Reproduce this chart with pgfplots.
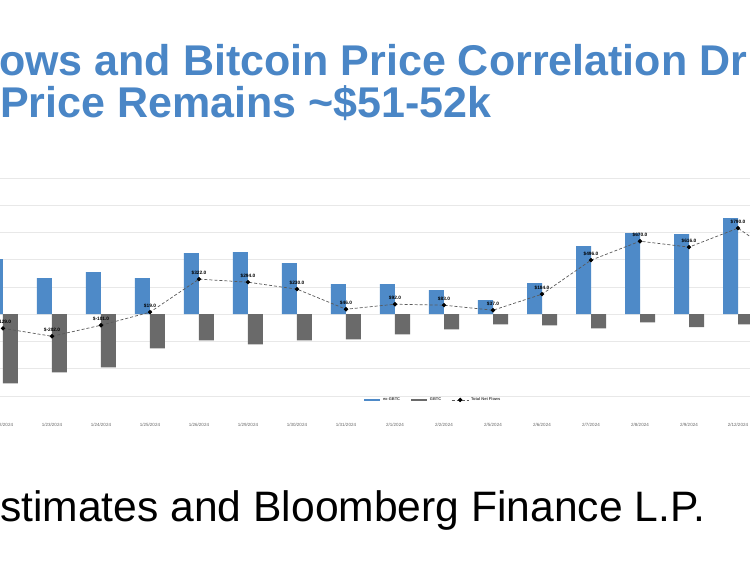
\documentclass[border=0pt]{standalone}
\usepackage{pgfplots}
\pgfplotsset{compat=1.18}
\usepackage{pgfplotstable}
\usepackage{fontspec}
\setmainfont{Liberation Sans}
\definecolor{tblue}{HTML}{4A86C6}
\definecolor{bblue}{HTML}{4E8AC8}
\definecolor{bgray}{HTML}{6A6A6A}
\definecolor{lgray}{HTML}{5A5A5A}

\pgfplotstableread{
x exg gbtc total
0 505 -634 -129
1 331 -533 -202
2 386 -487 -101
3 331 -312 19
4 561 -239 322
5 570 -276 294
6 469 -239 230
7 276 -230 46
8 276 -184 92
9 221 -138 83
10 129 -92 37
11 285 -101 184
12 625 -129 496
13 744 -74 670
14 735 -119 616
15 882 -92 790
16 560 -82 478
}\flows

\begin{document}
\begin{tikzpicture}[x=1pt,y=1pt]
\useasboundingbox (0,0) rectangle (750,562);
\clip (0,0) rectangle (750,562);
\fill[white] (0,0) rectangle (750,562);
\node[anchor=base west, inner sep=0, text=tblue, font=\fontsize{43}{43}\selectfont\bfseries] at (-1,486) {ows and Bitcoin Price Correlation Dr};
\node[anchor=base west, inner sep=0, text=tblue, font=\fontsize{43}{43}\selectfont\bfseries] at (0,444) {Price Remains \textasciitilde\$51-52k};
\node[anchor=base west, inner sep=0, text=black, font=\fontsize{42.6}{42.6}\selectfont] at (0,40) {stimates and Bloomberg Finance L.P.};
\begin{axis}[
  at={(0pt,166pt)}, anchor=south west,
  scale only axis, width=750pt, height=218pt,
  xmin=-0.0612, xmax=15.245,
  ymin=-750, ymax=1250,
  ytick={-750,-500,...,1250},
  yticklabels={},
  ymajorgrids,
  grid style={draw=black!9, line width=0.7pt},
  axis line style={draw=none},
  tick style={draw=none},
  xtick={0,...,15},
  xticklabels={1/22/2024,1/23/2024,1/24/2024,1/25/2024,1/26/2024,1/29/2024,1/30/2024,1/31/2024,2/1/2024,2/2/2024,2/5/2024,2/6/2024,2/7/2024,2/8/2024,2/9/2024,2/12/2024},
  xticklabel style={font=\fontsize{4.5}{5}\selectfont, text=black!60, yshift=-24pt},
  legend columns=3,
  legend style={at={(axis description cs:0.577,-0.018)}, anchor=center, draw=none, fill=none,
     font=\fontsize{4}{4.5}\selectfont\bfseries, text=black!75, /tikz/every even column/.append style={column sep=8pt}},
  /pgf/number format/assume math mode=true,
]
\addplot[ybar, bar width=15pt, bar shift=-7.5pt, fill=bblue, draw=none,
  legend image code/.code={\draw[bblue, line width=1.8pt] (0pt,0pt) -- (16pt,0pt);}]
  table[x=x,y=exg]{\flows};
\addlegendentry{ex-GBTC}
\addplot[ybar, bar width=15pt, bar shift=7.5pt, fill=bgray, draw=none,
  legend image code/.code={\draw[bgray, line width=1.8pt] (0pt,0pt) -- (16pt,0pt);}]
  table[x=x,y=gbtc]{\flows};
\addlegendentry{GBTC}
\addplot[densely dashed, lgray, line width=0.7pt, mark=*, mark size=1.8pt,
  mark options={solid, fill=black, draw=black},
  nodes near coords={\$\pgfmathprintnumber[fixed,precision=1,fixed zerofill]{\pgfplotspointmeta}},
  every node near coord/.append style={font=\fontsize{4.8}{5}\selectfont\bfseries, text=black, anchor=south, yshift=0.5pt}]
  table[x=x,y=total]{\flows};
\addlegendentry{Total Net Flows}
\end{axis}
\end{tikzpicture}
\end{document}
